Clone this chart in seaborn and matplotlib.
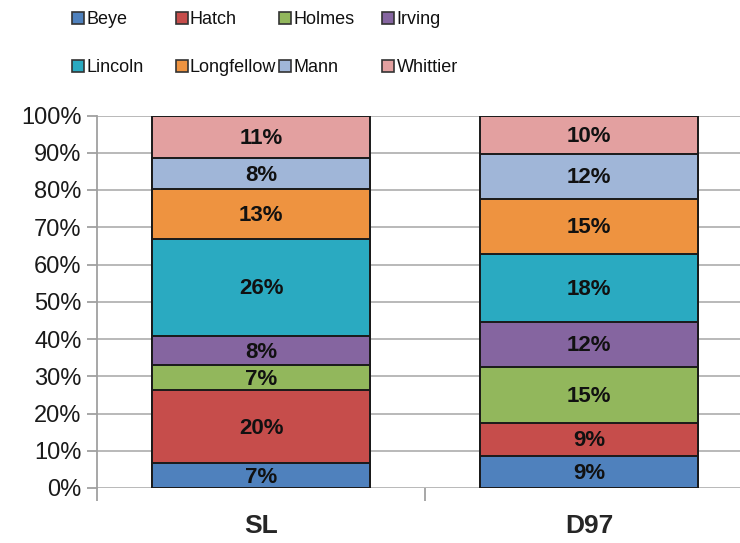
import numpy as np
import pandas as pd
import matplotlib
matplotlib.use("Agg")
import matplotlib.pyplot as plt
import seaborn as sns
from matplotlib.lines import Line2D
from matplotlib.ticker import FixedLocator, PercentFormatter

# data (percent share per group)
groups = ["SL", "D97"]
series = ["Beye", "Hatch", "Holmes", "Irving", "Lincoln", "Longfellow", "Mann", "Whittier"]
sl_vals = [6.7, 19.6, 6.6, 8.0, 26.0, 13.3, 8.4, 11.4]
d97_vals = [8.6, 8.9, 15.0, 12.1, 18.3, 14.8, 12.0, 10.3]
colors = ["#4F81BD", "#C64D4B", "#92B75C", "#8565A0", "#2AAAC1", "#EE9340", "#A0B6D8", "#E3A0A0"]
y_ticks = [0, 10, 20, 30, 40, 50, 60, 70, 80, 90, 100]

sns.set_style("white")
plt.rcParams["font.family"] = ["Liberation Sans", "DejaVu Sans"]

df = pd.DataFrame({"SL": sl_vals, "D97": d97_vals}, index=series)
cum = df.cumsum()

fig = plt.figure(figsize=(7.4, 5.43), dpi=100)
ax = fig.add_axes([97 / 740, 1 - 488 / 543, 1 - 97 / 740, (488 - 115.5) / 543])

# stacked bars: draw cumulative totals from top series down
for i in reversed(range(len(series))):
    sns.barplot(x=groups, y=[cum.loc[series[i], g] for g in groups], color=colors[i],
                edgecolor="#1a1a1a", linewidth=1.4, width=0.665, errorbar=None,
                saturation=1, ax=ax, zorder=2)

# segment labels
for j, g in enumerate(groups):
    for i, s in enumerate(series):
        v = df.loc[s, g]
        mid = cum.loc[s, g] - v / 2
        ax.text(j, mid - 0.4, f"{round(v):d}%", ha="center", va="center",
                fontsize=16, fontweight="bold", color="#111111", zorder=3)

ax.yaxis.set_major_locator(FixedLocator(y_ticks))
ax.yaxis.set_major_formatter(PercentFormatter(decimals=0))
ax.yaxis.grid(True, color="#b3b3b3", linewidth=1.3)
ax.set_axisbelow(True)

for side in ["top", "right", "bottom"]:
    ax.spines[side].set_visible(False)
ax.spines["left"].set_color("#a0a0a0")
ax.spines["left"].set_linewidth(1.3)

ax.tick_params(axis="y", direction="out", length=7, width=1.3, color="#a0a0a0",
               labelsize=17, labelcolor="#1a1a1a", pad=4, left=True)
ax.set_xticks([-0.5, 0.5, 1.5])
ax.set_xticklabels([])
ax.set_xticks([0, 1], minor=True)
ax.set_xticklabels(groups, minor=True, fontsize=19, fontweight="bold")
ax.tick_params(axis="x", which="major", direction="out", length=9, width=1.3,
               color="#a0a0a0", bottom=True)
ax.tick_params(axis="x", which="minor", length=0, pad=19, bottom=True)
ax.set_xlabel("")
ax.set_ylabel("")
ax.set_ylim(0, 100)
ax.set_xlim(-0.5, 1.46)

# legend laid out on a fixed grid, 4 columns x 2 rows
for i, s in enumerate(series):
    col, row = i % 4, i // 4
    x0 = (73 + col * 103.3) / 740
    y0 = 1 - (20 + row * 48) / 543
    h = Line2D([], [], linestyle="none", marker="s", markersize=9,
               markerfacecolor=colors[i], markeredgecolor="#333333", markeredgewidth=1.2)
    fig.legend(handles=[h], labels=[s], loc="center left", bbox_to_anchor=(x0, y0),
               frameon=False, borderpad=0, borderaxespad=0, handlelength=0.6,
               handletextpad=0.15, fontsize=13, labelcolor="#111111")

fig.savefig("out.png", dpi=100)
